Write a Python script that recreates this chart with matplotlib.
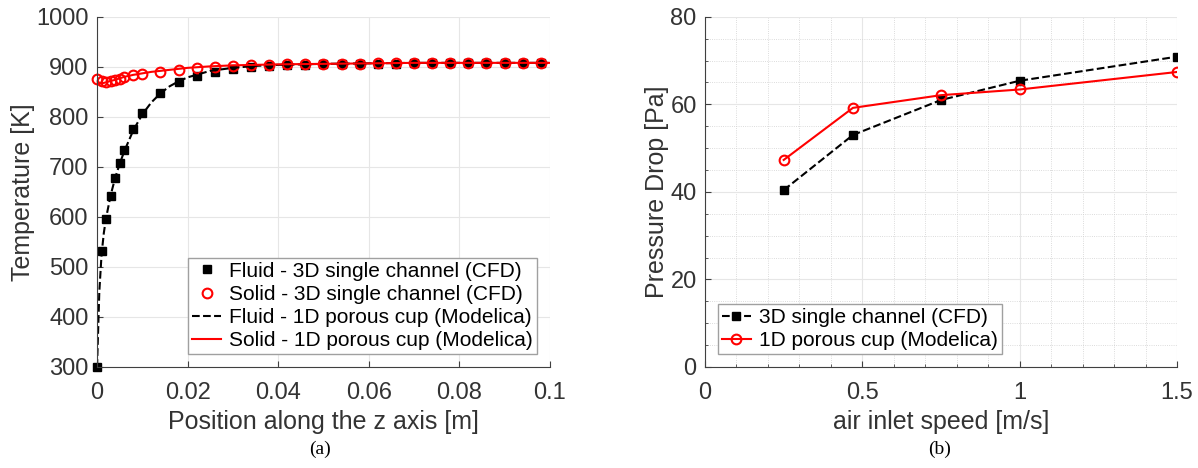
import matplotlib.pyplot as plt
import numpy as np

plt.rcParams['font.family'] = ['Liberation Sans', 'DejaVu Sans']

# (a) temperature profiles
z_cfd = [0, 0.001, 0.002, 0.003, 0.004, 0.005, 0.006, 0.008, 0.010,
         0.014, 0.018, 0.022, 0.026, 0.030, 0.034, 0.038, 0.042, 0.046,
         0.050, 0.054, 0.058, 0.062, 0.066, 0.070, 0.074, 0.078, 0.082,
         0.086, 0.090, 0.094, 0.098]
T_fluid_cfd = [300, 532, 596, 641, 678, 707, 733, 775, 807,
               848, 869, 882, 890, 895, 899, 901, 903, 904,
               905, 905, 906, 906, 906, 907, 907, 907, 907,
               907, 907, 907, 907]
T_solid_cfd = [875, 871, 870, 872, 874, 876, 879, 883, 885,
               889, 893, 897, 899, 901, 903, 904, 905, 905,
               906, 906, 906, 907, 907, 907, 907, 907, 907,
               907, 907, 908, 908]

z_mod = [0, 0.0005, 0.001, 0.0015, 0.002, 0.003, 0.004, 0.005, 0.006,
         0.008, 0.010, 0.012, 0.014, 0.016, 0.018, 0.020, 0.025, 0.030,
         0.035, 0.040, 0.050, 0.060, 0.070, 0.080, 0.090, 0.100]
T_fluid_mod = [300, 450, 525, 568, 598, 643, 678, 706, 731,
               773, 805, 829, 847, 861, 871, 879, 892, 898,
               902, 904, 906, 907, 908, 908, 908, 908]
T_solid_mod = [873, 868, 867, 868, 869, 872, 874, 877, 880,
               884, 887, 890, 892, 894, 896, 898, 901, 903,
               904, 905, 906, 907, 908, 908, 908, 908]

# (b) pressure drop
speed = [0.25, 0.47, 0.75, 1.0, 1.5]
dp_cfd = [40.4, 53.0, 61.0, 65.4, 70.9]
dp_mod = [47.3, 59.2, 62.1, 63.4, 67.4]

txt = '#333333'
fig = plt.figure(figsize=(11.98, 4.68), dpi=100)
ax1 = fig.add_axes([0.081, 0.216, 0.378, 0.748])
ax2 = fig.add_axes([0.5885, 0.216, 0.394, 0.748])

for ax in (ax1, ax2):
    for s in ['top', 'right']:
        ax.spines[s].set_visible(False)
    for s in ['left', 'bottom']:
        ax.spines[s].set_color('#404040')
    ax.tick_params(direction='in', labelsize=17, colors='#404040',
                   labelcolor=txt, length=4)
    ax.tick_params(axis='x', pad=11)
    ax.tick_params(axis='y', pad=6)
    ax.set_axisbelow(True)

# left chart
ax1.plot(z_cfd, T_fluid_cfd, 's', color='black', markersize=6,
         clip_on=False, label='Fluid - 3D single channel (CFD)')
ax1.plot(z_cfd, T_solid_cfd, 'o', color='red', mfc='none', markersize=7,
         mew=1.5, clip_on=False, label='Solid - 3D single channel (CFD)')
ax1.plot(z_mod, T_fluid_mod, '--', color='black', lw=1.5,
         label='Fluid - 1D porous cup (Modelica)')
ax1.plot(z_mod, T_solid_mod, '-', color='red', lw=1.5,
         label='Solid - 1D porous cup (Modelica)')
ax1.set_xlim(0, 0.1)
ax1.set_ylim(300, 1000)
ax1.set_xticks(np.arange(0, 0.101, 0.02))
ax1.set_xticklabels(['0', '0.02', '0.04', '0.06', '0.08', '0.1'])
ax1.grid(True, color='#e6e6e6', lw=0.8)
ax1.set_xlabel('Position along the z axis [m]', fontsize=18, color=txt,
               labelpad=4)
ax1.set_ylabel('Temperature [K]', fontsize=18, color=txt, labelpad=1)
leg1 = ax1.legend(loc='lower right', fontsize=15, handlelength=1.4,
                  fancybox=False, framealpha=1, edgecolor='#a0a0a0',
                  borderpad=0.2, labelspacing=0.2, handletextpad=0.4,
                  borderaxespad=0.6)
leg1.get_frame().set_linewidth(1.0)

# right chart
ax2.plot(speed, dp_cfd, '--s', color='black', lw=1.5, markersize=6,
         label='3D single channel (CFD)')
ax2.plot(speed, dp_mod, '-o', color='red', lw=1.5, mfc='none', mew=1.5,
         markersize=7, label='1D porous cup (Modelica)')
ax2.set_xlim(0, 1.5)
ax2.set_ylim(0, 80)
ax2.set_xticks([0, 0.5, 1, 1.5])
ax2.set_xticklabels(['0', '0.5', '1', '1.5'])
ax2.set_yticks([0, 20, 40, 60, 80])
ax2.set_xticks(np.arange(0, 1.51, 0.1), minor=True)
ax2.set_yticks(np.arange(0, 81, 5), minor=True)
ax2.tick_params(which='minor', direction='in', length=2, colors='#404040')
ax2.grid(True, which='major', color='#e6e6e6', lw=0.8)
ax2.grid(True, which='minor', color='#d0d0d0', lw=0.6, linestyle=':')
ax2.set_xlabel('air inlet speed [m/s]', fontsize=18, color=txt, labelpad=4)
ax2.set_ylabel('Pressure Drop [Pa]', fontsize=18, color=txt, labelpad=1)
leg2 = ax2.legend(loc='lower left', fontsize=15, handlelength=1.4,
                  fancybox=False, framealpha=1, edgecolor='#a0a0a0',
                  borderpad=0.2, labelspacing=0.2, handletextpad=0.4,
                  borderaxespad=0.6)
leg2.get_frame().set_linewidth(1.0)

fig.text(320 / 1198, 1 - 449 / 468, '(a)', family='Liberation Serif',
         fontsize=14, ha='center', va='center')
fig.text(940 / 1198, 1 - 449 / 468, '(b)', family='Liberation Serif',
         fontsize=14, ha='center', va='center')

fig.savefig('out.png', dpi=100)
